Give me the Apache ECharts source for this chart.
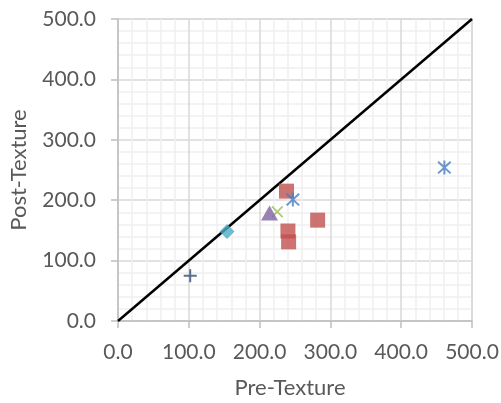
<!DOCTYPE html>
<html><head><meta charset="utf-8">
<script src="https://cdn.jsdelivr.net/npm/echarts@6/dist/echarts.min.js"></script>
<style>html,body{margin:0;padding:0;background:#fff}#c{width:501px;height:403px}</style>
</head><body><div id="c"></div>
<script>
var axisTicks = [0, 100, 200, 300, 400, 500];
var plusPts = [[102, 75]];
var squarePts = [[238, 215], [282, 167], [240, 149], [241, 131]];
var xPts = [[225, 181]];
var trianglePts = [[214, 179]];
var diamondPts = [[154, 148]];
var asteriskPts = [[247, 201], [461, 254]];
var identityLine = [[0, 0], [500, 500]];

var PLUS = 'path://M-0.9,-6 L0.9,-6 L0.9,-0.9 L6,-0.9 L6,0.9 L0.9,0.9 L0.9,6 L-0.9,6 L-0.9,0.9 L-6,0.9 L-6,-0.9 L-0.9,-0.9 Z';
var XMARK = 'path://M-5.6,-4.4 L-4.4,-5.6 L0,-1.2 L4.4,-5.6 L5.6,-4.4 L1.2,0 L5.6,4.4 L4.4,5.6 L0,1.2 L-4.4,5.6 L-5.6,4.4 L-1.2,0 Z';
var AST = 'path://M-0.8,-6 L0.8,-6 L0.8,6 L-0.8,6 Z M-5.57,-4.43 L-4.43,-5.57 L5.57,4.43 L4.43,5.57 Z M5.57,-4.43 L-4.43,5.57 L-5.57,4.43 L4.43,-5.57 Z';

var font = 'Lato';
var chart = echarts.init(document.getElementById('c'), null, {renderer: 'canvas'});
function axisCommon(name, isY) {
  return {
    type: 'value', min: axisTicks[0], max: axisTicks[axisTicks.length - 1], interval: 100,
    name: name, nameLocation: 'middle', nameGap: isY ? 88 : 56,
    nameTextStyle: {fontFamily: font, fontSize: 22, color: '#595959', padding: isY ? 0 : [0, 10, 0, 0]},
    axisLine: {show: true, onZero: false, lineStyle: {color: '#bfbfbf', width: 1.5}},
    axisTick: {show: true, length: 7, lineStyle: {color: '#bfbfbf', width: 1.5}},
    minorTick: {show: false, splitNumber: 5},
    axisLabel: {fontFamily: font, fontSize: 21, color: '#595959', margin: isY ? 22 : 21,
      formatter: function (v) { return v.toFixed(1); }},
    splitLine: {show: true, lineStyle: {color: '#d9d9d9', width: 1.5}},
    minorSplitLine: {show: true, lineStyle: {color: '#efefef', width: 1.5}}
  };
}
var opt = {
  animation: false,
  backgroundColor: '#fff',
  grid: {left: 118, right: 29, top: 19, bottom: 82, containLabel: false, outerBoundsMode: 'none',
    show: true, borderColor: '#ddd9c3', borderWidth: 1.5},
  xAxis: axisCommon('Pre-Texture', false),
  yAxis: axisCommon('Post-Texture', true),
  series: [
    {type: 'line', data: identityLine, showSymbol: false, symbol: 'none', lineStyle: {color: '#000', width: 2.5}, z: 1},
    {type: 'scatter', data: plusPts, symbol: PLUS, symbolSize: 13, itemStyle: {color: '#2c4d75'}, z: 2},
    {type: 'scatter', data: squarePts, symbol: 'rect', symbolSize: 15, itemStyle: {color: '#c0504d'}, z: 2},
    {type: 'scatter', data: xPts, symbol: XMARK, symbolSize: 12, itemStyle: {color: '#9bbb59'}, z: 2},
    {type: 'scatter', data: trianglePts, symbol: 'triangle', symbolSize: [17, 15], itemStyle: {color: '#8064a2'}, z: 3},
    {type: 'scatter', data: diamondPts, symbol: 'diamond', symbolSize: [15, 15], itemStyle: {color: '#4bacc6'}, z: 3},
    {type: 'scatter', data: asteriskPts, symbol: AST, symbolSize: 14, itemStyle: {color: '#4a7ebb'}, z: 4}
  ]
};
chart.setOption(opt);
</script></body></html>
